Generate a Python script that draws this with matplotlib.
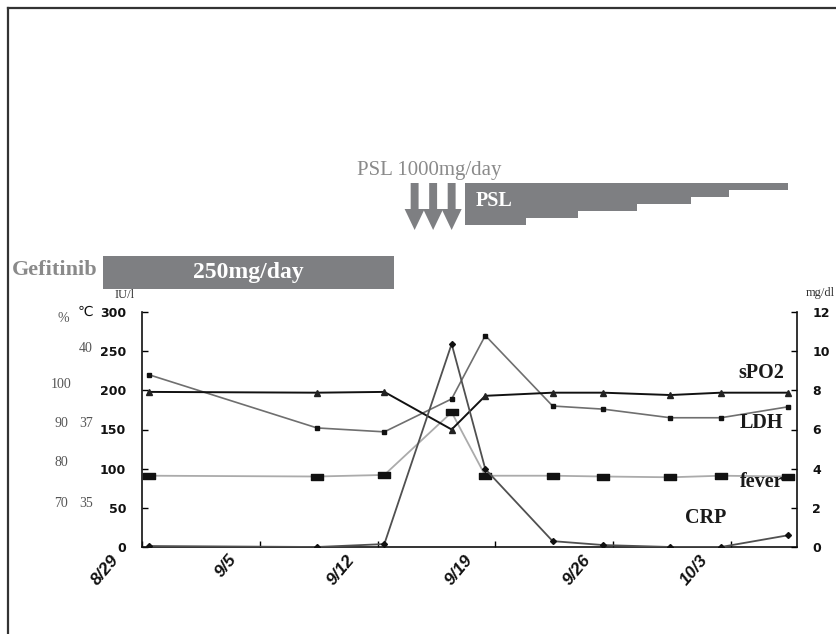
import numpy as np
import matplotlib
matplotlib.use("Agg")
import matplotlib.pyplot as plt
from matplotlib.lines import Line2D
from matplotlib.path import Path
from matplotlib.transforms import ScaledTranslation

# ---------------- data ----------------
# days counted from 8/29
sample_days = [0, 10, 14, 18, 20, 24, 27, 31, 34, 38]
spo2  = [198, 197, 198, 150, 193, 197, 197, 194, 197, 197]      # plotted on left 0-300 scale
ldh   = [220, 152, 147, 189, 270, 180, 176, 165, 165, 179]      # IU/l
fever = [91, 90, 92, 172, 91, 91, 90, 89, 91, 90]               # plotted on left 0-300 scale
crp   = [0.05, 0.0, 0.15, 10.37, 3.98, 0.3, 0.1, 0.0, 0.0, 0.6] # mg/dl (right axis)

tick_days = [0, 7, 14, 21, 28, 35]
tick_labels = ["8/29", "9/5", "9/12", "9/19", "9/26", "10/3"]
left_ticks = [0, 50, 100, 150, 200, 250, 300]
right_ticks = [0, 2, 4, 6, 8, 10, 12]

pct_labels = ["100", "90", "80", "70"]
pct_pos = [207, 158, 108, 56]
temp_labels = ["40", "37", "35"]
temp_pos = [254, 158, 56]

gef_start, gef_end = -2.3, 15.0
pulse_days = [16.2, 17.3, 18.4]
psl_edges = [19.2, 22.8, 25.9, 29.4, 32.6, 34.9, 38.4]
psl_doses = [60, 50, 40, 30, 20, 10]   # mg/day

POINT_OFFSET = 0.4
W, H = 836, 634
GRAY = "#7e7f82"

def fx(px):
    return px / W

def fy(py):
    return 1 - py / H

fig = plt.figure(figsize=(W / 100, H / 100), dpi=100)
fig.patch.set_facecolor("white")

# main axes
ax = fig.add_axes([fx(142), fy(547), (797 - 142) / W, (547 - 312) / H])
ax2 = ax.twinx()
x = np.array(sample_days) + POINT_OFFSET

ax.plot(x, ldh, color="#6f6f6f", lw=1.2, marker="s", ms=3.5, mfc="#111", mec="#111", zorder=3)
rect = Path([(-1, -0.45), (1, -0.45), (1, 0.45), (-1, 0.45), (-1, -0.45)],
            [Path.MOVETO, Path.LINETO, Path.LINETO, Path.LINETO, Path.CLOSEPOLY])
ax.plot(x, fever, color="#ababab", lw=1.3, marker=rect, ms=9, mfc="#111", mec="#111", zorder=3)
ax.plot(x, spo2, color="#111111", lw=1.4, marker="^", ms=4, mfc="#222", mec="#222", zorder=4)
ax2.plot(x, crp, color="#505050", lw=1.3, marker="D", ms=3, mfc="#111", mec="#111", zorder=3)

xmax = (797 - 142) / ((731 - 142) / 35)
ax.set_xlim(0, xmax)
ax.set_ylim(0, 300)
ax2.set_ylim(0, 12)

for a in (ax, ax2):
    a.spines["top"].set_visible(False)
    for s in a.spines.values():
        s.set_linewidth(1.2)
        s.set_color("#111")
    a.set_facecolor("none")
ax2.spines["left"].set_visible(False)
ax2.spines["bottom"].set_visible(False)
ax.spines["right"].set_visible(False)

ax.set_yticks(left_ticks)
ax.set_yticklabels([str(t) for t in left_ticks], fontfamily="DejaVu Sans",
                   fontweight="bold", fontsize=9, color="#111")
ax.tick_params(axis="y", direction="in", length=4, width=1, pad=11.5)
ax2.set_yticks(right_ticks)
ax2.set_yticklabels([str(t) for t in right_ticks], fontfamily="DejaVu Sans",
                    fontweight="bold", fontsize=9, color="#111")
ax2.tick_params(axis="y", direction="in", length=4, width=1, pad=11)

ax.set_xticks(tick_days)
ax.set_xticklabels([])
ax.tick_params(axis="x", direction="in", length=4, width=1)
off = ax.get_xaxis_transform() + ScaledTranslation(-20 / 100, -5 / 100, fig.dpi_scale_trans)
for d, lab in zip(tick_days, tick_labels):
    ax.text(d, 0, lab, transform=off, rotation=50, ha="right", va="top",
            fontfamily="Liberation Sans", fontweight="bold", fontstyle="italic",
            fontsize=12.5, color="#111")

# unit / scale labels on left
lt = ax.get_yaxis_transform()
for lab, p in zip(pct_labels, pct_pos):
    ax.text((61 - 142) / 655, p, lab, transform=lt, ha="center", va="center",
            fontfamily="Liberation Serif", fontsize=10, color="#555")
for lab, p in zip(temp_labels, temp_pos):
    ax.text((86 - 142) / 655, p, lab, transform=lt, ha="center", va="center",
            fontfamily="Liberation Serif", fontsize=10, color="#555")
fig.text(fx(63), fy(319), "%", ha="center", va="center", fontfamily="Liberation Serif",
         fontsize=10, color="#555")
fig.text(fx(85), fy(312), "℃", ha="center", va="center", fontfamily="DejaVu Sans",
         fontsize=10, color="#111")
fig.text(fx(125), fy(295), "IU/l", ha="center", va="center", fontfamily="Liberation Serif",
         fontsize=9, color="#333")
fig.text(fx(806), fy(293), "mg/dl", ha="left", va="center", fontfamily="Liberation Serif",
         fontsize=9, color="#333")

# series labels
lab_kw = dict(fontfamily="Liberation Serif", fontweight="bold", fontsize=14.5,
              color="#1a1a1a", ha="center", va="center")
ax.text(36.8, 222, "sPO2", **lab_kw)
ax.text(36.8, 158, "LDH", **lab_kw)
ax.text(36.8, 83, "fever", **lab_kw)
ax.text(33.5, 37, "CRP", **lab_kw)

# ---------------- treatment panel ----------------
axt = fig.add_axes([fx(142), fy(300), (797 - 142) / W, 150 / H], sharex=ax)
axt.set_ylim(300, 150)
axt.axis("off")
axt.set_xlim(0, xmax)

axt.bar(gef_start, 33, width=gef_end - gef_start, bottom=256, align="edge",
        color=GRAY, lw=0, clip_on=False)
axt.text((gef_start + gef_end) / 2, 272.5, "250mg/day", ha="center", va="center",
         fontfamily="Liberation Serif", fontweight="bold", fontsize=17, color="white")
fig.text(fx(12), fy(270), "Gefitinib", ha="left", va="center",
         fontfamily="Liberation Serif", fontweight="bold", fontsize=16, color="#8a8a8a")

for d in pulse_days:
    axt.arrow(d, 183, 0, 47, width=0.47, head_width=1.19, head_length=21,
              length_includes_head=True, color=GRAY, lw=0, clip_on=False)
fig.text(fx(357), fy(170), "PSL 1000mg/day", ha="left", va="center",
         fontfamily="Liberation Serif", fontsize=15, color="#8a8a8a")

for i, dose in enumerate(psl_doses):
    axt.bar(psl_edges[i], dose * 0.7, width=psl_edges[i + 1] - psl_edges[i], bottom=183,
            align="edge", color=GRAY, lw=0, clip_on=False)
axt.text(psl_edges[0] + 0.65, 201, "PSL", ha="left", va="center",
         fontfamily="Liberation Serif", fontweight="bold", fontsize=14.5, color="white")

# frame lines
fig.add_artist(Line2D([fx(8), 1], [fy(8), fy(8)], transform=fig.transFigure,
                      color="#333", lw=1.6))
fig.add_artist(Line2D([fx(8), fx(8)], [fy(8), 0], transform=fig.transFigure,
                      color="#333", lw=1.6))

fig.savefig("out.png", dpi=100)
